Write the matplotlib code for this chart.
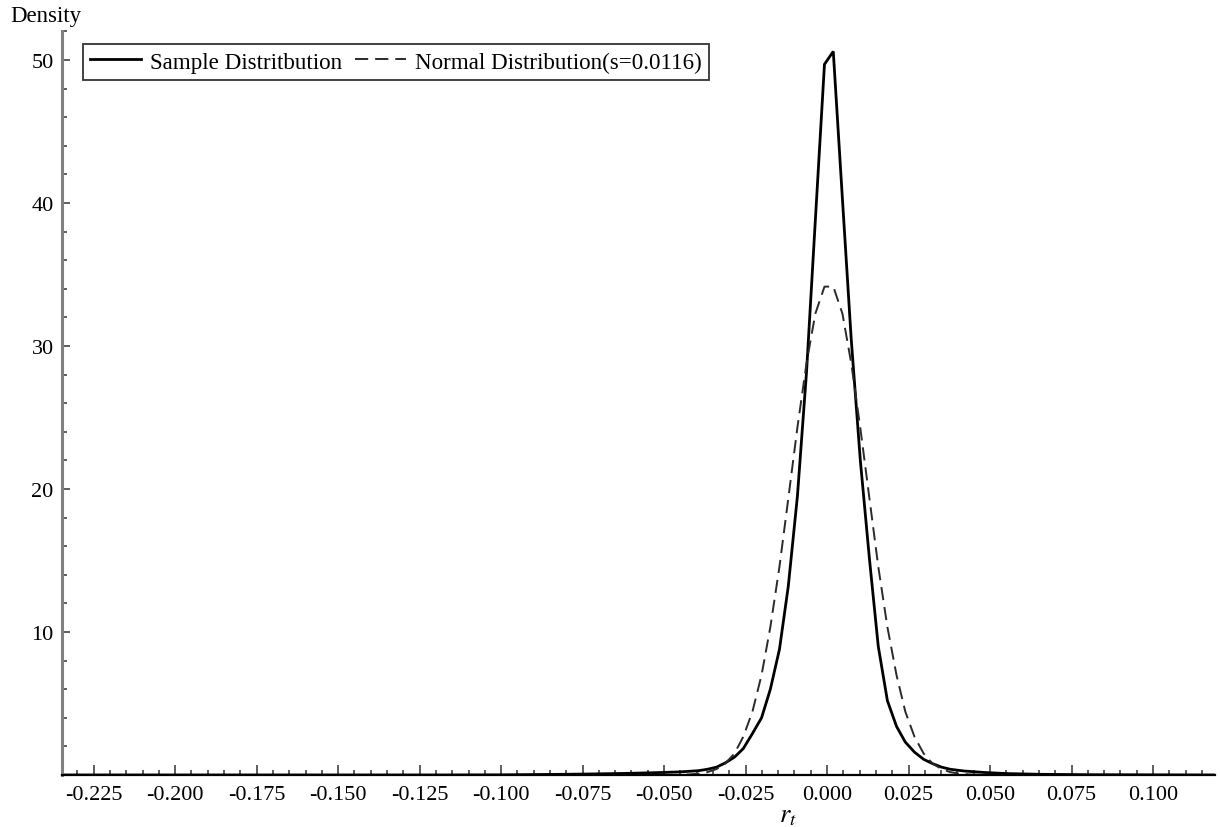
import matplotlib
matplotlib.use("Agg")
import matplotlib.pyplot as plt
from matplotlib.ticker import MultipleLocator, FixedLocator, FormatStrFormatter

plt.rcParams['font.family'] = ['Liberation Serif', 'DejaVu Serif']
plt.rcParams['mathtext.fontset'] = 'stix'
plt.rcParams['axes.unicode_minus'] = False
plt.rcParams['lines.scale_dashes'] = False

# ---- data ----
sample_x = [-0.2347, -0.12, -0.10, -0.09, -0.08, -0.07, -0.06, -0.05, -0.045, -0.0395,
            -0.0367, -0.0339, -0.0312, -0.0284, -0.0257, -0.0229, -0.0201, -0.0174,
            -0.0146, -0.0119, -0.0091, -0.0063, -0.0036, -0.0008, 0.0019, 0.0047,
            0.0074, 0.0102, 0.0130, 0.0157, 0.0185, 0.0213, 0.0240, 0.0268, 0.0296,
            0.0323, 0.0351, 0.0378, 0.042, 0.048, 0.055, 0.065, 0.08, 0.119]
sample_y = [0.0, 0.0, 0.01, 0.03, 0.05, 0.08, 0.12, 0.18, 0.22, 0.30,
            0.40, 0.55, 0.85, 1.25, 1.85, 2.9, 4.0, 6.0,
            8.8, 13.2, 19.5, 28.2, 38.8, 49.7, 50.6, 40.3,
            30.5, 22.0, 15.1, 9.0, 5.2, 3.4, 2.3, 1.6, 1.1,
            0.8, 0.55, 0.4, 0.28, 0.18, 0.10, 0.05, 0.02, 0.0]

normal_x = [-0.2347, -0.06, -0.0478, -0.0450, -0.0422, -0.0395, -0.0367, -0.0339,
            -0.0312, -0.0284, -0.0257, -0.0229, -0.0201, -0.0174, -0.0146, -0.0119,
            -0.0091, -0.0063, -0.0036, -0.0008, 0.0019, 0.0047, 0.0074, 0.0102,
            0.0130, 0.0157, 0.0185, 0.0213, 0.0240, 0.0268, 0.0296, 0.0323, 0.0351,
            0.0378, 0.0406, 0.0433, 0.0461, 0.06, 0.119]
normal_y = [0.0, 0.0, 0.003, 0.006, 0.04, 0.09, 0.20, 0.42,
            0.81, 1.51, 2.68, 4.43, 6.99, 10.35, 14.58, 19.33,
            24.31, 28.81, 32.26, 34.15, 34.16, 32.27, 28.81, 24.25,
            19.33, 14.58, 10.35, 6.99, 4.43, 2.68, 1.51, 0.81, 0.42,
            0.20, 0.09, 0.04, 0.015, 0.0, 0.0]

x_major = [-0.225, -0.200, -0.175, -0.150, -0.125, -0.100, -0.075, -0.050,
           -0.025, 0.000, 0.025, 0.050, 0.075, 0.100]
y_major = [10, 20, 30, 40, 50]

label_sample = "Sample Distritbution"
label_normal = "Normal Distribution(s=0.0116)"

# ---- figure ----
W, H = 1220, 828
fig = plt.figure(figsize=(W / 100, H / 100), dpi=100)
ax = fig.add_axes([62 / W, (H - 776) / H, (1215 - 62) / W, (776 - 32.4) / H])

ax.plot(sample_x, sample_y, color='black', lw=2.0, label=label_sample,
        solid_joinstyle='miter')
ax.plot(normal_x, normal_y, color='#2a2a2a', lw=1.4, dashes=(9.5, 5),
        label=label_normal)

ax.set_xlim(-0.2347, 0.119)
ax.set_ylim(0, 52)

for s in ['top', 'right']:
    ax.spines[s].set_visible(False)
ax.spines['left'].set_color('#808080')
ax.spines['left'].set_linewidth(2.2)
ax.spines['bottom'].set_color('black')
ax.spines['bottom'].set_linewidth(1.6)

ax.xaxis.set_major_locator(FixedLocator(x_major))
ax.xaxis.set_major_formatter(FormatStrFormatter('%.3f'))
ax.xaxis.set_minor_locator(MultipleLocator(0.005))
ax.yaxis.set_major_locator(FixedLocator(y_major))
ax.yaxis.set_minor_locator(MultipleLocator(2))

ax.tick_params(axis='both', which='both', direction='in', labelsize=16,
               color='#333333', width=1.1)
ax.tick_params(axis='x', which='major', length=7, pad=7)
ax.tick_params(axis='x', which='minor', length=3.5)
ax.tick_params(axis='y', which='major', length=6, pad=6)
ax.tick_params(axis='y', which='minor', length=3.5)

leg = ax.legend(loc='upper left', bbox_to_anchor=(83 / W, 1 - 45 / H),
                bbox_transform=fig.transFigure, borderaxespad=0, ncol=2,
                fontsize=16.6, frameon=True, fancybox=False, handlelength=2.2,
                handletextpad=0.4, columnspacing=0.55, borderpad=0.32)
leg.get_frame().set_edgecolor('black')
leg.get_frame().set_linewidth(1.3)

fig.text(10 / W, 1 - 22 / H, "Density", fontsize=16.5, ha='left', va='baseline')
fig.text(788 / W, 1 - 822 / H, r"$r_t$", fontsize=19, ha='center', va='baseline')

fig.savefig("out.png", dpi=100)
